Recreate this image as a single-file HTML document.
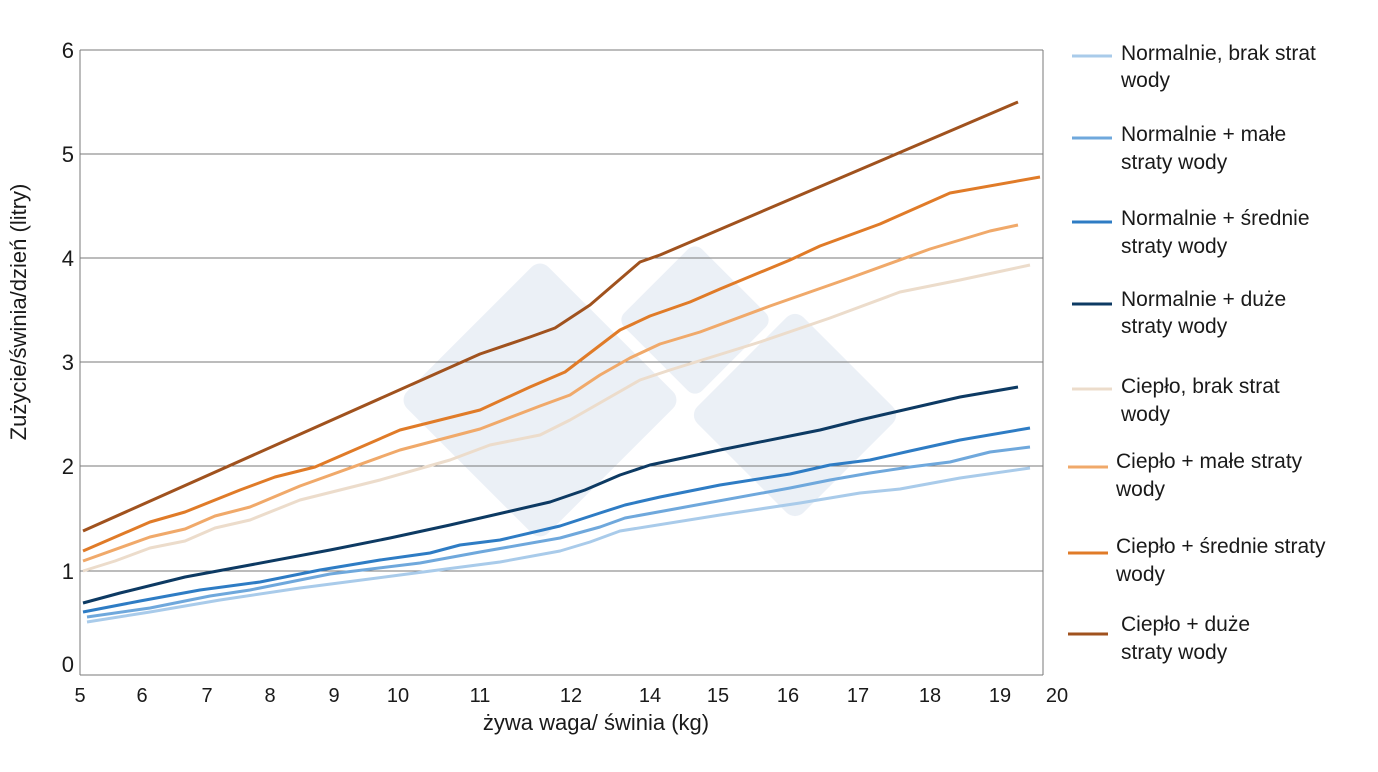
<!DOCTYPE html>
<html><head><meta charset="utf-8"><style>
body{margin:0;background:#fff;}
svg text{font-family:"Liberation Sans",sans-serif;fill:#1a1a1a;}
</style></head><body>
<svg width="1378" height="767" xmlns="http://www.w3.org/2000/svg">
<g opacity="0.09" fill="#2f5fa8">
<rect x="440" y="300" width="200" height="200" transform="rotate(45 540 400)" rx="12"/>
<rect x="640" y="265" width="110" height="110" transform="rotate(45 695 320)" rx="10"/>
<rect x="720" y="340" width="150" height="150" transform="rotate(45 795 415)" rx="12"/>
</g>
<g stroke="#7a7a7a" stroke-width="1">
<line x1="80" y1="50" x2="1043" y2="50"/>
<line x1="80" y1="154" x2="1043" y2="154"/>
<line x1="80" y1="258" x2="1043" y2="258"/>
<line x1="80" y1="362" x2="1043" y2="362"/>
<line x1="80" y1="466" x2="1043" y2="466"/>
<line x1="80" y1="571" x2="1043" y2="571"/>
<line x1="80" y1="675" x2="1043" y2="675"/>
<line x1="80" y1="50" x2="80" y2="675"/>
<line x1="1043" y1="50" x2="1043" y2="675"/>
</g>
<g font-size="22" text-anchor="end">
<text x="74" y="58">6</text><text x="74" y="162">5</text><text x="74" y="266">4</text>
<text x="74" y="370">3</text><text x="74" y="474">2</text><text x="74" y="579">1</text><text x="74" y="672">0</text>
</g>
<g font-size="20" text-anchor="middle">
<text x="80" y="702">5</text><text x="142" y="702">6</text><text x="207" y="702">7</text><text x="270" y="702">8</text>
<text x="334" y="702">9</text><text x="398" y="702">10</text><text x="480" y="702">11</text><text x="571" y="702">12</text>
<text x="650" y="702">14</text><text x="718" y="702">15</text><text x="788" y="702">16</text><text x="858" y="702">17</text>
<text x="930" y="702">18</text><text x="1000" y="702">19</text><text x="1057" y="702">20</text>
</g>
<text x="596" y="730" font-size="22" text-anchor="middle">żywa waga/ świnia (kg)</text>
<text transform="translate(26,312) rotate(-90)" font-size="22" text-anchor="middle">Zużycie/świnia/dzień (litry)</text>
<g fill="none" stroke-width="3" stroke-linejoin="round">
<polyline stroke="#a9cbea" points="87,622 150,612 220,600 300,588 400,575 500,562 560,551 590,542 620,531 720,515 800,503 860,493 900,489 960,478 1030,468"/>
<polyline stroke="#6fa8dc" points="87,617 150,608 210,596 250,590 330,574 420,563 480,552 560,538 600,527 625,518 680,508 790,488 830,480 870,473 910,467 950,462 990,452 1030,447"/>
<polyline stroke="#2e7cc4" points="83,612 140,601 200,590 260,582 320,570 380,560 430,553 460,545 500,540 560,526 600,513 625,505 660,497 720,485 790,474 830,465 870,460 910,451 960,440 1030,428"/>
<polyline stroke="#0d3a63" points="83,603 120,593 185,577 250,565 330,550 390,538 450,525 550,502 585,490 620,475 650,465 720,450 790,436 820,430 860,420 960,397 1018,387"/>
<polyline stroke="#ecdccb" points="83,571 115,561 150,548 185,541 215,528 250,520 300,500 380,480 450,460 490,445 540,435 570,420 605,400 640,380 670,370 760,342 830,318 900,292 960,280 1030,265"/>
<polyline stroke="#f0a96a" points="83,561 150,537 185,529 215,516 250,507 300,486 400,450 480,429 540,406 570,395 600,375 630,358 660,344 700,332 770,306 850,278 930,249 990,231 1018,225"/>
<polyline stroke="#e07b28" points="83,551 150,522 185,512 240,490 275,477 315,467 400,430 480,410 530,387 565,372 620,330 650,316 690,302 720,289 790,260 820,246 880,224 950,193 1040,177"/>
<polyline stroke="#a0521e" points="83,531 480,354 530,337 555,328 590,305 640,262 660,255 1018,102"/>
</g>
<g stroke-width="3">
<line x1="1072" y1="56" x2="1112" y2="56" stroke="#a9cbea"/>
<line x1="1072" y1="138" x2="1112" y2="138" stroke="#6fa8dc"/>
<line x1="1072" y1="222" x2="1112" y2="222" stroke="#2e7cc4"/>
<line x1="1072" y1="304" x2="1112" y2="304" stroke="#0d3a63"/>
<line x1="1072" y1="389" x2="1112" y2="389" stroke="#ecdccb"/>
<line x1="1068" y1="467" x2="1108" y2="467" stroke="#f0a96a"/>
<line x1="1068" y1="553" x2="1108" y2="553" stroke="#e07b28"/>
<line x1="1068" y1="634" x2="1108" y2="634" stroke="#a0521e"/>
</g>
<g font-size="21">
<text x="1121" y="60">Normalnie, brak strat</text><text x="1121" y="87">wody</text>
<text x="1121" y="141">Normalnie + małe</text><text x="1121" y="169">straty wody</text>
<text x="1121" y="225">Normalnie + średnie</text><text x="1121" y="253">straty wody</text>
<text x="1121" y="306">Normalnie + duże</text><text x="1121" y="333">straty wody</text>
<text x="1121" y="393">Ciepło, brak strat</text><text x="1121" y="421">wody</text>
<text x="1116" y="468">Ciepło + małe straty</text><text x="1116" y="496">wody</text>
<text x="1116" y="553">Ciepło + średnie straty</text><text x="1116" y="581">wody</text>
<text x="1121" y="631">Ciepło + duże</text><text x="1121" y="659">straty wody</text>
</g>
</svg>
</body></html>
